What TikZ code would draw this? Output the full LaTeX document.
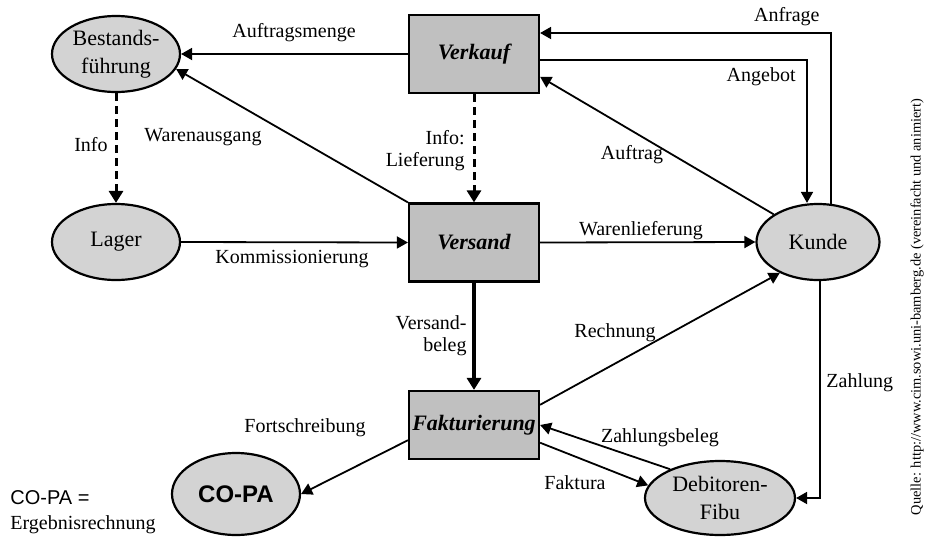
\documentclass[tikz,border=0pt]{standalone}
\usepackage{fontspec}
\setmainfont{Liberation Serif}
\newfontfamily\arialfont{Liberation Sans}
\usetikzlibrary{arrows.meta,calc,shapes.geometric}
\definecolor{boxgray}{RGB}{192,192,192}
\definecolor{ellgray}{RGB}{211,211,211}
\begin{document}
\begin{tikzpicture}[x=0.5pt,y=-0.5pt,
  proc/.style={rectangle, draw, line width=1.1pt, fill=boxgray,
    minimum width=65pt, minimum height=39pt, inner sep=0pt,
    font=\fontsize{11}{13}\selectfont\bfseries\itshape},
  ent/.style={ellipse, draw, line width=1.1pt, fill=ellgray,
    minimum width=64pt, minimum height=38pt, inner sep=0pt},
  enttext/.style={inner sep=0pt, align=center, font=\fontsize{11}{14}\selectfont},
  lbl/.style={inner sep=0pt, align=center, font=\fontsize{10}{11}\selectfont},
  flow/.style={-{Triangle[length=5.5pt,width=6pt]}, line width=0.9pt},
  info/.style={-{Triangle[length=6pt,width=7pt]}, line width=1.5pt,
    dash pattern=on 4pt off 2.5pt},
  heavy/.style={-{Triangle[length=6pt,width=7pt]}, line width=1.6pt}]
\useasboundingbox (0,0) rectangle (950,537);

% processes (boxes) and entities (ellipses)
\node[proc] (verk) at (474,54) {Verkauf};
\node[proc] (vers) at (474,242.5) {Versand};
\node[proc, minimum height=34pt] (fakt) at (474,425) {Fakturierung};
\node[ent, label={[enttext]center:Bestands-\\führung}] (best) at (116,54) {};
\node[ent, label={[enttext]center:Lager}] (lager) at (116,242) {};
\node[ent, minimum width=61.5pt, label={[enttext]center:Kunde}] (kunde) at (818,242) {};
\node[ent, minimum height=41pt,
  label={[enttext, font=\arialfont\bfseries\fontsize{12}{14}\selectfont]center:CO-PA}] (copa) at (236,494) {};
\node[ent, minimum width=75pt, minimum height=37pt,
  label={[enttext]center:Debitoren-\\Fibu}] (debi) at (720,498) {};

% flows
\draw[flow] (verk.west) -- (best.east);
\draw[info] (best.south) -- (lager.north);
\draw[flow] (vers.north west) -- (best.-14);
\draw[info] (verk.south) -- (vers.north);
\draw[flow] (lager.east) -- (vers.west);
\draw[flow] (kunde.north west) -- (verk.-19);
\draw[flow] ($(kunde.north)+(13,1)$) |- ($(verk.east)+(0,-21)$);
\draw[flow] ($(verk.east)+(0,6)$) -| ($(kunde.north)+(-11,0)$);
\draw[flow] (vers.east) -- (kunde.west);
\draw[heavy] (vers.south) -- (fakt.north);
\draw[flow] (fakt.17) -- (kunde.219);
\draw[flow] ($(kunde.south)+(2,0)$) |- (debi.east);
\draw[flow] (debi.150) -- (fakt.east);
\draw[flow] (fakt.-15) -- (debi.170);
\draw[flow] (fakt.193) -- (copa.east);

% flow labels
\node[lbl] (l-auftragsmenge) at (294,33) {Auftragsmenge};
\node[lbl, anchor=east] (l-info) at (108,145) {Info};
\node[lbl] (l-warenausgang) at (203,137) {Warenausgang};
\node[lbl, anchor=east, align=right] (l-lieferung) at (465,151) {Info:\\Lieferung};
\node[lbl] (l-kommission) at (292,259) {Kommissionierung};
\node[lbl] (l-auftrag) at (632,155) {Auftrag};
\node[lbl, anchor=east] (l-anfrage) at (820,17) {Anfrage};
\node[lbl, anchor=east] (l-angebot) at (796,77) {Angebot};
\node[lbl] (l-warenlief) at (641,231) {Warenlieferung};
\node[lbl, anchor=east, align=right] (l-versandbeleg) at (467,336) {Versand-\\beleg};
\node[lbl] (l-rechnung) at (615,333) {Rechnung};
\node[lbl, anchor=west] (l-zahlung) at (826,383) {Zahlung};
\node[lbl] (l-zahlungsbeleg) at (660,438) {Zahlungsbeleg};
\node[lbl] (l-faktura) at (575,483) {Faktura};
\node[lbl] (l-fortschreibung) at (305,428) {Fortschreibung};

% legend and source
\node[lbl, anchor=west, font=\arialfont\fontsize{10}{11}\selectfont] (legend1) at (10,498) {CO-PA =};
\node[lbl, anchor=west] (legend2) at (10,525) {Ergebnisrechnung};
\node[inner sep=0pt, rotate=90, font=\fontsize{7.2}{8}\selectfont] (source) at (917,307)
  {Quelle: http://www.cim.sowi.uni-bamberg.de (vereinfacht und animiert)};
\end{tikzpicture}
\end{document}
